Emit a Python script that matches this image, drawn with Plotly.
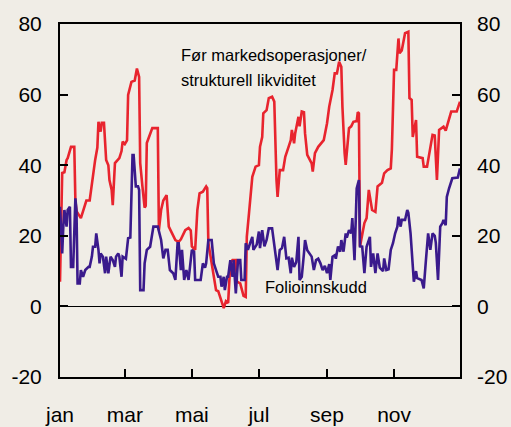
import pandas as pd
import plotly.graph_objects as go

# ---- data (days since 1 Jan, values in bn NOK) ----
red_day = [0,2,4,6,7,10,13,14,15,16,
           19,21,24,27,30,32,34,35,37,38,
           40,42,44,45,47,48,50,54,56,57,
           59,61,62,65,68,70,72,73,75,77,
           78,79,81,84,89,90,92,94,97,99,
           102,105,108,110,114,117,119,120,123,125,
           127,130,133,134,135,138,140,142,144,146,
           148,149,151,153,155,157,160,161,164,167,
           169,170,172,175,178,181,182,184,185,188,
           190,193,195,196,197,198,200,203,205,208,
           210,211,213,214,217,218,220,222,223,225,
           229,230,232,235,240,243,245,248,250,252,
           254,256,257,259,260,263,265,267,270,271,
           272,273,277,279,281,284,287,289,293,295,
           298,301,302,304,306,308,309,311,314,317,
           318,320,321,324,325,330,331,334,337,339,
           341,343,345,349,351,354,356,361,364]
red_val = [7,37.8,38,41.5,42,45.2,45.2,30,27,26.5,
           25,27,30,30,37.8,41.5,45,52.3,49.5,52,
           52,41.5,40,35.8,33,28.7,40.6,42,44,46.7,
           46,47,59.9,63.6,64,67.4,65,40.6,34,28,
           28.5,46.3,48,50.5,50.5,21.6,27.3,30,31.5,22.6,
           20.7,18.8,18.3,19,21.6,22.2,21.5,17,16,27.3,
           32,32.5,34,33.5,18,12.3,7.5,4.6,4.3,2.4,
           1,-0.5,1.5,1,12.3,13.1,13.1,7,6.5,3,
           2.7,19.7,26.4,36.7,39.6,40,45.2,48,54.7,55.6,
           59,59.4,58,42.4,35.8,31,38.6,38.6,42.4,45.2,
           47.1,50,46.2,49,53.7,51,55.2,55,49,42.9,
           40.5,38.2,43.4,45.2,47.1,51.9,56.6,61.3,66,66,
           69.3,67.9,56.6,43.4,40.1,50.5,51,52.3,52.5,55,
           54.7,17,23.6,25,33,27.3,26.8,34,35,37.7,
           38.6,39.1,44.5,67,67,75.9,71.7,72.5,77.4,77.8,
           59,58.5,48,52.8,42.4,42,39.6,39.6,45.2,48.6,
           48.4,35.8,50,50.9,49.8,52.8,55.2,55.2,58]

purple_day = [0,1,2,3,4,6,7,9,10,12,
              14,15,16,18,19,21,23,26,27,29,
              30,32,33,35,36,37,39,41,42,44,
              46,48,50,51,53,54,56,57,60,62,
              64,66,67,69,71,72,73,76,77,79,
              82,85,89,92,94,96,98,100,103,105,
              107,108,110,111,113,115,117,120,122,123,
              128,130,132,133,135,138,140,142,144,146,
              147,149,150,152,153,155,157,158,160,162,
              164,165,168,169,171,173,175,176,179,181,
              182,184,186,188,190,193,194,196,198,200,
              202,204,206,208,210,211,213,215,217,218,
              220,222,223,225,227,229,231,233,235,237,
              239,241,243,245,246,248,250,251,253,255,
              256,258,260,261,263,265,266,268,270,272,
              273,275,277,279,282,283,285,287,289,291,
              294,295,297,299,301,303,305,307,308,310,
              311,314,316,317,319,320,322,324,325,329,
              331,333,335,337,339,341,342,344,346,348,
              349,351,352,354,357,362,364]
purple_val = [28.2,22.6,15,22.6,27.3,22.6,27.3,28.2,11.2,11.2,
              30.6,27.3,6.5,6.5,10.3,8.4,10.3,11.2,11.2,14.1,
              16.9,16.9,20.7,16,12.2,15,14.1,9.4,14.1,9.4,
              14.1,13.1,11.2,14.1,15,14.1,8.4,14.1,13.5,19.3,
              19.5,42.9,42.9,34,34,33,4.6,4.6,12.2,16,
              16.9,22.6,22.6,18.8,13.6,16,16,10.3,9.4,7.5,
              17.9,17.9,10.3,16,7.5,10.3,7.5,16,15.5,7.5,
              7.5,12.2,11,12.2,18.8,18.8,12.2,10.3,8.4,8.4,
              5.6,8.4,4.6,8.4,8.4,13.1,8.4,13.1,3.7,13.1,
              13.1,7.5,7.5,17.9,16,17.9,19.7,16,17.5,21.2,
              16.5,21.6,17,18.8,22.1,22.1,19.7,16.5,10.3,16,
              16.5,19.7,13.6,13.8,9.4,13.8,11.2,12.5,19.7,7.5,
              8.4,15,18.8,15.9,15,14.1,10.3,13.1,13.5,12.2,
              10.3,11.5,9.4,12,7.5,14.1,14.5,13.5,17,15.5,
              18.8,15.5,20.7,19.5,21.6,20.7,25,13.1,33.4,35.8,
              17,16.9,9.4,16.9,19.7,11.2,15,9.4,15,11,
              10,13.6,10.3,10.5,16,17.9,20.7,22.6,25.4,22.6,
              24.5,24.5,27.3,26.5,20.7,15,7,10,8,7.5,
              5.1,13.1,20.7,16,20.7,20,18,7.5,22.6,23.6,
              24.5,23,31,33.4,36.3,36.5,39.1]

tick_dates = ["2001-01-01", "2001-03-01", "2001-05-01", "2001-07-01", "2001-09-01", "2001-11-01"]
tick_text = ["jan", "mar", "mai", "jul", "sep", "nov"]
y_ticks = [-20, 0, 20, 40, 60, 80]
y_tick_text = ["-20", "0", "20", "40", "60", "80"]
red_name = "Før markedsoperasjoner/ strukturell likviditet"
purple_name = "Folioinnskudd"

base = pd.Timestamp("2001-01-01")
red_x = base + pd.to_timedelta(red_day, unit="D")
purple_x = base + pd.to_timedelta(purple_day, unit="D")

BG = "#f0ede6"
RED = "#e8242e"
PURPLE = "#3a1a8c"
FONT = "Liberation Sans, Arial, sans-serif"

fig = go.Figure()
fig.add_trace(go.Scatter(x=red_x, y=red_val, mode="lines", name=red_name,
                         line=dict(color=RED, width=2.6), hoverinfo="skip"))
fig.add_trace(go.Scatter(x=purple_x, y=purple_val, mode="lines", name=purple_name,
                         line=dict(color=PURPLE, width=2.6), hoverinfo="skip"))
# helper trace so the right axis is drawn
fig.add_trace(go.Scatter(x=[red_x[0]], y=[None], yaxis="y2", mode="lines",
                         showlegend=False, hoverinfo="skip"))

axis_common = dict(ticks="inside", ticklen=8, tickwidth=1.5, tickcolor="black",
                   showgrid=False, automargin=False,
                   tickfont=dict(size=21, color="black", family=FONT))

fig.update_layout(
    width=511, height=427,
    margin=dict(l=60, r=51, t=24, b=50, autoexpand=False),
    paper_bgcolor=BG, plot_bgcolor=BG,
    showlegend=False,
    font=dict(family=FONT, color="black"),
    xaxis=dict(type="date", range=["2001-01-01", "2001-12-31"],
               tickvals=tick_dates, ticktext=tick_text,
               showline=True, linecolor="black", linewidth=2, mirror=True,
               zeroline=False, ticklabelstandoff=18, **axis_common),
    yaxis=dict(range=[-20, 80], tickvals=y_ticks, ticktext=y_tick_text,
               showline=True, linecolor="black", linewidth=2, mirror=True,
               zeroline=True, zerolinecolor="black", zerolinewidth=1.2,
               ticklabelstandoff=12, **axis_common),
    yaxis2=dict(range=[-20, 80], tickvals=y_ticks, ticktext=y_tick_text,
                overlaying="y", side="right",
                showline=False, zeroline=False, ticklabelstandoff=16, **axis_common),
)

ann_font = dict(size=16.5, color="black", family=FONT)
fig.add_annotation(x="2001-04-19", y=71.2, xref="x", yref="y", text="Før markedsoperasjoner/",
                   showarrow=False, xanchor="left", yanchor="middle", font=ann_font)
fig.add_annotation(x="2001-04-19", y=64.1, xref="x", yref="y", text="strukturell likviditet",
                   showarrow=False, xanchor="left", yanchor="middle", font=ann_font)
fig.add_annotation(x="2001-07-05", y=5.5, xref="x", yref="y", text=purple_name,
                   showarrow=False, xanchor="left", yanchor="middle", font=ann_font)

fig.write_html(
    "out.html",
    config={"displayModeBar": False},
    post_script="document.body.style.margin='0';document.body.style.overflow='hidden';"
                "document.body.style.background='" + BG + "';",
)
